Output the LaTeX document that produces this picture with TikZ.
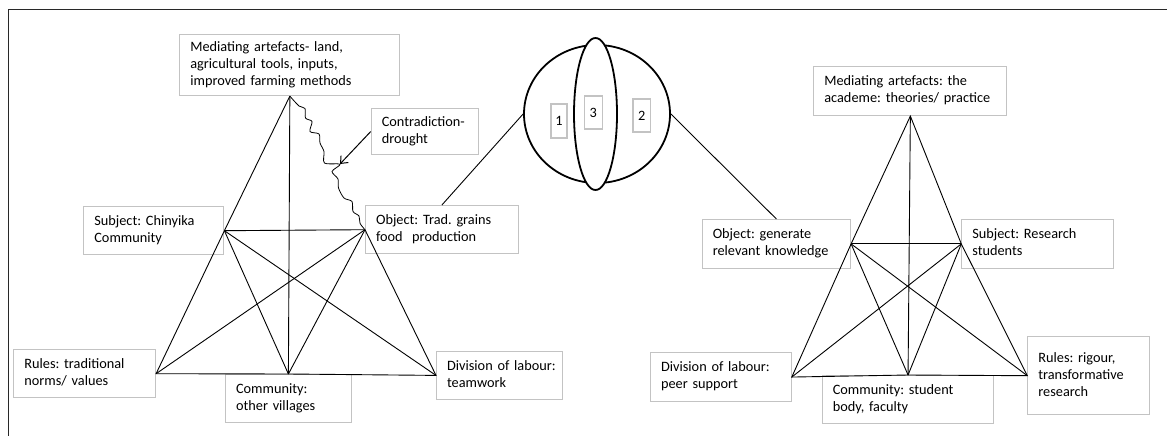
\documentclass[tikz,border=0pt]{standalone}
\usepackage{fontspec}
\setmainfont{Carlito}
\usetikzlibrary{shapes.geometric,arrows.meta}
\definecolor{boxgray}{RGB}{195,195,195}
\definecolor{framegray}{RGB}{40,40,40}
\frenchspacing
% stacked lines that never wrap inside a box
\newcommand{\boxlines}[1]{\begin{tabular}{@{}l@{}}#1\end{tabular}}

\begin{document}
\begin{tikzpicture}[x=1pt,y=-1pt,
  lbl/.style={draw=boxgray, line width=1.1pt, fill=white, anchor=north west,
    inner xsep=10.5pt, inner ysep=0pt, align=left,
    font=\fontsize{14.3}{17}\selectfont},
  num/.style={draw=boxgray, line width=1.1pt, fill=white, inner sep=0pt,
    font=\fontsize{14.3}{17}\selectfont},
  edge/.style={line width=0.9pt, black},
  lobe/.style={ellipse, draw, line width=1.8pt, inner sep=0pt}]

\useasboundingbox (0,0) rectangle (1167,436);

% outer frame
\draw[line width=1.8pt, framegray] (1167,9.5) -- (8.5,9.5) -- (8.5,436);

% ---- left activity system ----
\node[lbl, minimum width=220pt, text width=199pt, minimum height=60.7pt] (LMed) at (179.3,34.3)
  {\boxlines{Mediating artefacts- land,\\agricultural tools, inputs,\\improved farming methods}};
\node[lbl, minimum width=107pt, text width=86pt, minimum height=46.6pt] (Contra) at (370.7,107.7)
  {\boxlines{Contradiction-\\drought}};
\node[lbl, minimum width=140pt, text width=119pt, minimum height=48.3pt] (LSubj) at (83.3,206)
  {\boxlines{Subject: Chinyika\\Community}};
\node[lbl, minimum width=152.7pt, text width=131.7pt, minimum height=48.3pt] (LObj) at (365,205)
  {\boxlines{Object: Trad. grains\\food\ \ production}};
\node[lbl, minimum width=141.7pt, text width=120.7pt, minimum height=48.3pt] (LRules) at (13.3,349)
  {\boxlines{Rules: traditional\\norms/ values}};
\node[lbl, minimum width=125.7pt, text width=104.7pt, minimum height=47.7pt] (LComm) at (225,374)
  {\boxlines{Community:\\other villages}};
\node[lbl, minimum width=126.3pt, text width=105.3pt, minimum height=48.3pt] (LDiv) at (436,350.7)
  {\boxlines{Division of labour:\\teamwork}};

% ---- right activity system ----
\node[lbl, minimum width=193pt, text width=172pt, minimum height=49pt] (RMed) at (813.3,66)
  {\boxlines{Mediating artefacts: the\\academe: theories/ practice}};
\node[lbl, minimum width=148.3pt, text width=127.3pt, minimum height=48.7pt] (RObj) at (701.7,219)
  {\boxlines{Object: generate\\relevant knowledge}};
\node[lbl, minimum width=152pt, text width=131pt, minimum height=48.7pt] (RSubj) at (961.3,219)
  {\boxlines{Subject: Research\\students}};
\node[lbl, minimum width=140.7pt, text width=119.7pt, minimum height=48.4pt] (RDiv) at (650,352.3)
  {\boxlines{Division of labour:\\peer support}};
\node[lbl, minimum width=171.6pt, text width=150.6pt, minimum height=48.3pt] (RComm) at (821.7,375)
  {\boxlines{Community: student\\body, faculty}};
\node[lbl, minimum width=121.7pt, text width=100.7pt, minimum height=78.3pt] (RRules) at (1027.3,336)
  {\boxlines{Rules: rigour,\\transformative\\research}};

% ---- shared object: overlapping ellipses ----
\node[lobe, minimum width=146pt, minimum height=138pt] (pump) at (597,114) {};
\node[lobe, fill=white, minimum width=43pt, minimum height=152pt] (mid) at (595.5,114) {};
\node[num, minimum width=16pt, minimum height=34pt] (n1) at (559,121) {1};
\node[num, minimum width=18pt, minimum height=33pt] (n3) at (593.3,112.5) {3};
\node[num, minimum width=17.7pt, minimum height=33pt] (n2) at (641.8,115.5) {2};

\draw[edge] (pump.west) -- (LObj.north);
\draw[edge] (pump.east) -- (RObj.north);

% ---- left triangle ----
\draw[edge] (LMed.south) -- (LSubj.east) -- (LRules.east) -- (LComm.north) -- (LDiv.west) -- (LObj.west);
\draw[edge] (LMed.south) -- (LComm.north);
\draw[edge] (LSubj.east) -- (LObj.west);
\draw[edge] (LRules.east) -- (LObj.west);
\draw[edge] (LSubj.east) -- (LDiv.west);
\draw[edge] (LSubj.east) -- (LComm.north);
\draw[edge] (LObj.west) -- (LComm.north);

% contradiction: wavy link from artefacts to object
\draw[edge, line width=0.8pt] plot[smooth, tension=0.5] coordinates {
  (LMed.south) (299,106) (305,108.5) (305.5,118) (312,121.5) (310,131.5)
  (319,134) (320,143) (324,151.5) (324.5,163) (340,164.3)
  (332,171.5) (338,179) (338.5,188) (344,198) (352,201.5)
  (353,211.5) (359,216) (360,223.3) (LObj.west)};
\coordinate (hit) at (340,164);
\draw[edge, line width=1pt, -{Straight Barb[length=6pt,width=10pt]}] (Contra.west) -- (hit);

% ---- right triangle ----
\draw[edge] (RMed.south) -- (RObj.east) -- (RDiv.east) -- (RComm.north) -- (RRules.west) -- (RSubj.west) -- cycle;
\draw[edge] (RMed.south) -- (RComm.north);
\draw[edge] (RObj.east) -- (RSubj.west);
\draw[edge] (RObj.east) -- (RRules.west);
\draw[edge] (RSubj.west) -- (RDiv.east);
\draw[edge] (RObj.east) -- (RComm.north);
\draw[edge] (RSubj.west) -- (RComm.north);

\end{tikzpicture}
\end{document}
